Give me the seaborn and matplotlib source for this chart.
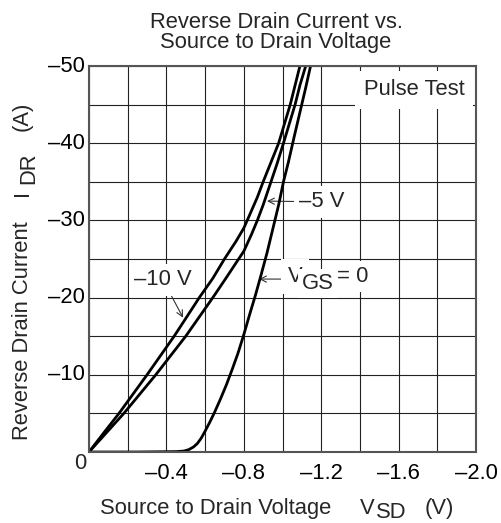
import numpy as np
import pandas as pd
import seaborn as sns
import matplotlib
matplotlib.use("Agg")
import matplotlib.pyplot as plt
from matplotlib.ticker import MultipleLocator, FuncFormatter

# ---- data ----
v_gs0 = [0, -0.25, -0.45, -0.49, -0.515, -0.54, -0.56, -0.58, -0.60, -0.625, -0.65,
         -0.68, -0.71, -0.74, -0.77, -0.80, -0.83, -0.86, -0.89, -0.92, -0.95, -0.98,
         -1.005, -1.03, -1.06, -1.09, -1.12, -1.145]
i_gs0 = [0, 0, -0.05, -0.12, -0.3, -0.65, -1.1, -1.8, -2.7, -3.9, -5.2,
         -6.9, -8.7, -10.7, -12.8, -15.2, -17.8, -20.3, -23.0, -25.8, -28.9, -32.0,
         -35.0, -37.5, -40.8, -44.0, -47.2, -50.0]

v_m5 = [0, -0.09, -0.18, -0.345, -0.50, -0.57, -0.64, -0.71, -0.76, -0.80, -0.84,
        -0.87, -0.90, -0.935, -0.97, -1.005, -1.035, -1.065, -1.09, -1.12]
i_m5 = [0, -2.5, -5, -10, -15, -17.5, -20, -22.6, -24.5, -26, -28.2,
        -30, -32, -34.6, -37.2, -40, -42.5, -45, -47.5, -50]

v_m10 = [0, -0.08, -0.155, -0.30, -0.44, -0.50, -0.57, -0.64, -0.70, -0.76, -0.80,
         -0.83, -0.87, -0.90, -0.94, -0.98, -1.01, -1.04, -1.065, -1.09]
i_m10 = [0, -2.6, -5, -10, -15, -17.3, -20, -22.5, -25, -27.3, -29,
         -30.7, -33, -35, -37.5, -40, -42.5, -45, -47.5, -50]

x_ticks_labeled = [-0.4, -0.8, -1.2, -1.6, -2.0]
y_ticks_labeled = [-10, -20, -30, -40, -50]

df = pd.concat([
    pd.DataFrame({"V": v_gs0, "I": i_gs0, "curve": "VGS=0"}),
    pd.DataFrame({"V": v_m5, "I": i_m5, "curve": "-5V"}),
    pd.DataFrame({"V": v_m10, "I": i_m10, "curve": "-10V"}),
])

sns.set_style("white")
plt.rcParams["font.family"] = ["Liberation Sans", "DejaVu Sans"]
FS = 15.8

W, H = 501, 523
fig = plt.figure(figsize=(W / 100, H / 100), dpi=100)
ax = fig.add_axes([89 / W, 71 / H, 387 / W, 386 / H])

def fx(px):
    return px / W

def fy(py):
    return 1 - py / H

sns.lineplot(data=df, x="V", y="I", units="curve", estimator=None, sort=False,
             color="black", lw=2.0, ax=ax, legend=False, zorder=4)

ax.set_xlim(0, -2.0)
ax.set_ylim(0, -50)
ax.xaxis.set_major_locator(MultipleLocator(0.2))
ax.yaxis.set_major_locator(MultipleLocator(5))

def xfmt(v, pos):
    for t in x_ticks_labeled:
        if abs(v - t) < 1e-6:
            return "\u2013%.1f" % abs(t)
    return ""

def yfmt(v, pos):
    for t in y_ticks_labeled:
        if abs(v - t) < 1e-6:
            return "\u2013%d" % abs(t)
    return ""

ax.xaxis.set_major_formatter(FuncFormatter(xfmt))
ax.yaxis.set_major_formatter(FuncFormatter(yfmt))
ax.tick_params(axis="both", length=0, labelsize=FS, colors="black")
ax.tick_params(axis="x", pad=8)
ax.tick_params(axis="y", pad=3)
for lab in ax.get_yticklabels():
    lab.set_va("center")
ax.set_xlabel("")
ax.set_ylabel("")
ax.grid(True, color="#222222", lw=0.8)
for s in ax.spines.values():
    s.set_color("#555555")
    s.set_linewidth(1.5)
    s.set_zorder(5)

# corner zero
fig.text(fx(80), fy(463.5), "0", ha="center", va="center", fontsize=FS)

# title
fig.text(fx(276), fy(27.5), "Reverse Drain Current vs.", ha="center", va="baseline", fontsize=FS)
fig.text(fx(276), fy(48), "Source to Drain Voltage", ha="center", va="baseline", fontsize=FS)

# x label
fig.text(fx(100), fy(514), "Source to Drain Voltage", ha="left", va="baseline", fontsize=FS)
fig.text(fx(360), fy(514), "V", ha="left", va="baseline", fontsize=FS)
fig.text(fx(376), fy(518), "SD", ha="left", va="baseline", fontsize=FS)
fig.text(fx(425), fy(514), "(V)", ha="left", va="baseline", fontsize=FS)

# y label
kw = dict(rotation=90, rotation_mode="anchor", ha="left", va="baseline", fontsize=FS)
fig.text(fx(28), fy(440), "Reverse Drain Current", **kw)
fig.text(fx(28), fy(196), "I", **kw)
fig.text(fx(34), fy(184), "DR", **kw)
fig.text(fx(28), fy(131), "(A)", **kw)

# annotations
box = dict(boxstyle="square,pad=0.25", fc="white", ec="none")
arr = dict(arrowstyle="->", lw=0.8, color="#333333", shrinkA=0, shrinkB=0,
           mutation_scale=11)

ax.text(-1.68, -46.9, "Pulse Test", ha="center", va="center", fontsize=FS, zorder=3,
        bbox=dict(boxstyle="square,pad=0.4", fc="white", ec="none"))

ax.annotate("\u201310 V", xy=(-0.486, -17.4), xytext=(-0.382, -22.3),
            ha="center", va="center", fontsize=FS, bbox=box, arrowprops=arr, zorder=3)
ax.annotate("\u20135 V", xy=(-0.92, -32.5), xytext=(-1.205, -32.4),
            ha="center", va="center", fontsize=FS, bbox=box, arrowprops=arr, zorder=3)

# V_GS = 0 label: white backing, then arrow on top
fig.text(fx(288), fy(282), "V", ha="left", va="baseline", fontsize=FS, zorder=2.8,
         bbox=dict(boxstyle="square,pad=0.3", fc="white", ec="none"))
fig.text(fx(302), fy(289), "GS", ha="left", va="baseline", fontsize=FS, zorder=2.8,
         bbox=dict(boxstyle="square,pad=0.2", fc="white", ec="none"))
fig.text(fx(337), fy(282), "= 0", ha="left", va="baseline", fontsize=FS, zorder=2.8,
         bbox=dict(boxstyle="square,pad=0.25", fc="white", ec="none"))
ax.annotate("", xy=(-0.879, -22.4), xytext=(-1.0, -22.4), arrowprops=arr, zorder=3.5)

fig.savefig("out.png", dpi=100, facecolor="white")
